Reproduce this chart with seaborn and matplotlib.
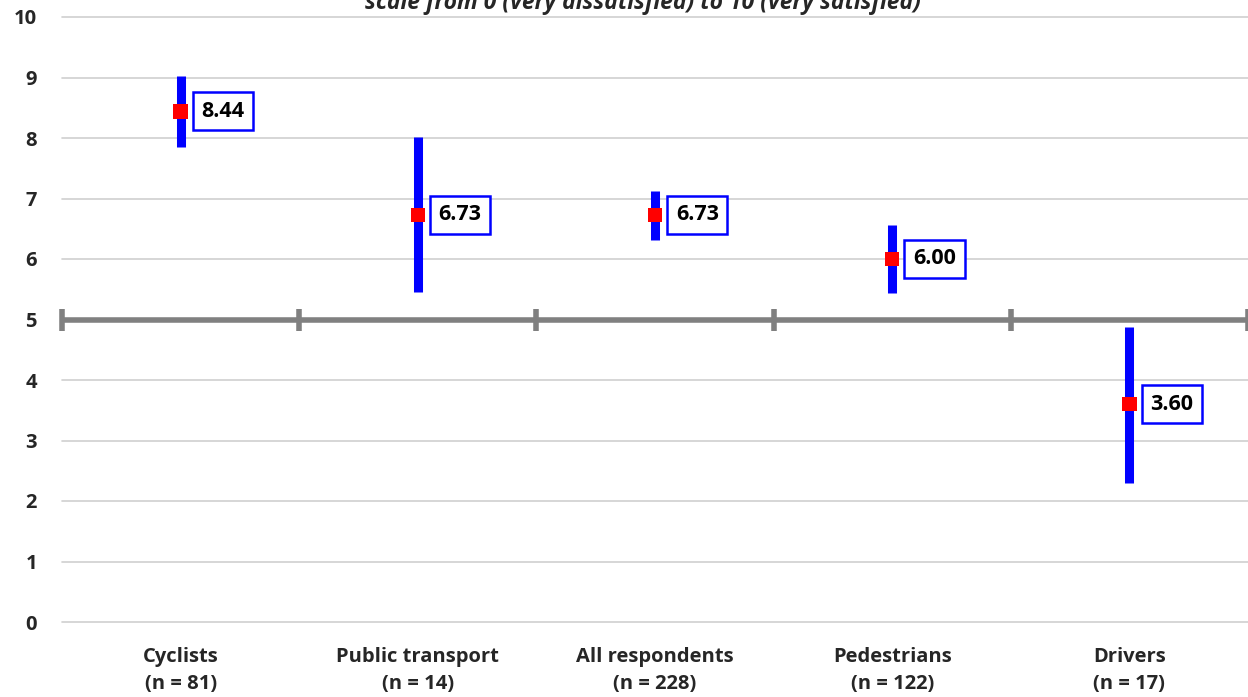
import numpy as np
import pandas as pd
import seaborn as sns
import matplotlib.pyplot as plt

groups = ['Cyclists\n(n = 81)', 'Public transport\n(n = 14)', 'All respondents\n(n = 228)',
          'Pedestrians\n(n = 122)', 'Drivers\n(n = 17)']
means = [8.44, 6.73, 6.73, 6.00, 3.60]
lower = [7.85, 5.45, 6.32, 5.43, 2.30]
upper = [9.02, 8.02, 7.13, 6.57, 4.87]

df = pd.DataFrame({'group': groups, 'mean': means, 'lo': lower, 'hi': upper})
df['pos'] = np.arange(len(df))

sns.set_style('white')
plt.rcParams['font.family'] = ['Open Sans', 'DejaVu Sans']
plt.rcParams['font.weight'] = 'bold'

fig = plt.figure(figsize=(12.48, 6.97), dpi=100)
ax = fig.add_axes([62 / 1248, 75 / 697, 1186 / 1248, 605 / 697])

# grid lines
for yv in range(0, 11):
    if yv != 5:
        ax.axhline(yv, color='#d0d0d0', lw=1.2, zorder=0, clip_on=False)

# midpoint axis at 5 with category boundary ticks
ax.axhline(5, color='#808080', lw=4, zorder=1)
bounds = np.arange(-0.5, len(df), 1.0)
ax.plot(bounds, np.full(len(bounds), 5), ls='none', marker='|', ms=16, mew=4,
        color='#808080', zorder=1, clip_on=False)

# intervals
ax.vlines(df['pos'], df['lo'], df['hi'], color='#0000ff', lw=6.5, zorder=2)
sns.scatterplot(data=df, x='pos', y='mean', marker='s', s=110, color='#ff0000',
                edgecolor='none', zorder=3, ax=ax, legend=False)

for _, r in df.iterrows():
    ax.annotate(f"{r['mean']:.2f}", (r['pos'], r['mean']), xytext=(15, 0),
                textcoords='offset points', ha='left', va='center',
                fontsize=15.5, fontweight='bold', color='black',
                bbox=dict(boxstyle='square,pad=0.4', fc='white', ec='#0000ff', lw=1.8),
                zorder=4)

ax.set_xlim(-0.5, len(df) - 0.5)
ax.set_ylim(0, 10)
ax.set_yticks(range(0, 11))
ax.set_xticks(df['pos'])
ax.set_xticklabels(df['group'], fontsize=14.5, fontweight='bold', linespacing=1.45)
ax.tick_params(axis='y', labelsize=14.5, pad=18, length=0)
ax.tick_params(axis='x', pad=18, length=0)
for lab in ax.get_yticklabels():
    lab.set_fontweight('bold')
ax.set_xlabel('')
ax.set_ylabel('')
for sp in ax.spines.values():
    sp.set_visible(False)

fig.text(0.515, (697 - 9) / 697, 'scale from 0 (very dissatisfied) to 10 (very satisfied)',
         ha='center', va='baseline', fontsize=16.5, fontweight='bold', style='italic')

fig.savefig('out.png', dpi=100)
